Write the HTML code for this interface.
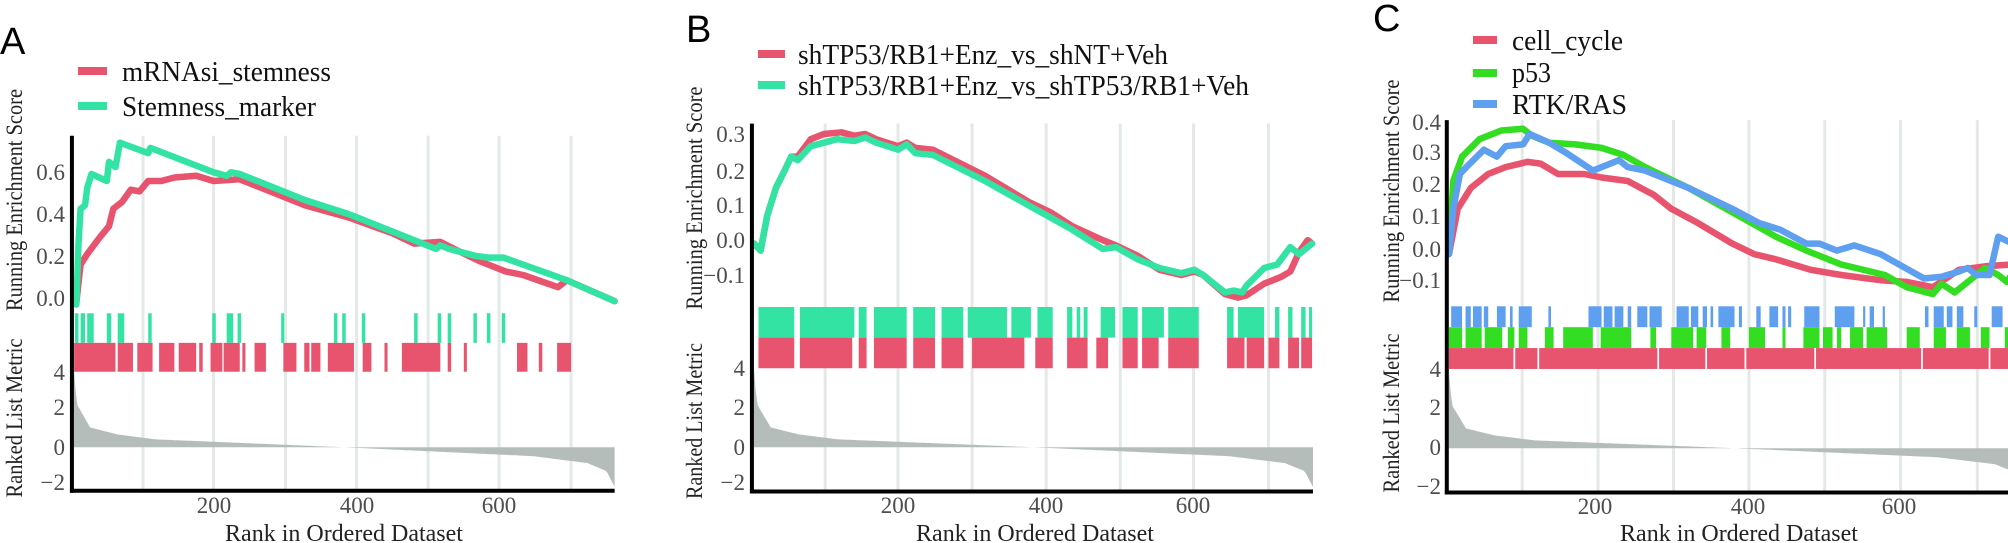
<!DOCTYPE html>
<html><head><meta charset="utf-8">
<style>
html,body{margin:0;padding:0;background:#fff;}
svg{display:block;}
svg text{font-family:"Liberation Serif","Times New Roman",serif;}
.t{fill:#4d4d4d;font-size:23px;}
.lg{fill:#111;font-size:28px;}
.yl{fill:#222;font-size:23px;}
.xl{fill:#222;font-size:24px;}
svg text.pl{font-family:"Liberation Sans",sans-serif;fill:#000;font-size:38px;}
</style></head>
<body>
<svg id="s" width="2008" height="543" viewBox="0 0 2008 543" xmlns="http://www.w3.org/2000/svg">
<g id="g"></g>
<!-- Panel A text -->
<text class="pl" x="0" y="54">A</text>
<rect x="78" y="67" width="29" height="8" fill="#e8536e"/>
<rect x="78" y="102" width="29" height="8" fill="#33e3a4"/>
<text class="lg" x="122" y="81" textLength="209" lengthAdjust="spacingAndGlyphs">mRNAsi_stemness</text>
<text class="lg" x="122" y="116" textLength="194" lengthAdjust="spacingAndGlyphs">Stemness_marker</text>
<g class="t" text-anchor="end">
<text class="t" x="65" y="180">0.6</text><text class="t" x="65" y="222">0.4</text><text class="t" x="65" y="264">0.2</text><text class="t" x="65" y="306">0.0</text>
<text class="t" x="65" y="380">4</text><text class="t" x="65" y="415">2</text><text class="t" x="65" y="455">0</text><text class="t" x="65" y="490">−2</text>
</g>
<g text-anchor="middle"><text class="t" x="214" y="513">200</text><text class="t" x="357" y="513">400</text><text class="t" x="499" y="513">600</text></g>
<text class="xl" x="344" y="541" text-anchor="middle">Rank in Ordered Dataset</text>
<text class="yl" transform="translate(22,200) rotate(-90)" text-anchor="middle" textLength="222" lengthAdjust="spacingAndGlyphs">Running Enrichment Score</text>
<text class="yl" transform="translate(22,418) rotate(-90)" text-anchor="middle" textLength="159" lengthAdjust="spacingAndGlyphs">Ranked List Metric</text>

<!-- Panel B text -->
<text class="pl" x="686" y="42">B</text>
<rect x="758" y="50" width="27" height="8" fill="#e8536e"/>
<rect x="758" y="81" width="27" height="8" fill="#33e3a4"/>
<text class="lg" x="798" y="64" textLength="370" lengthAdjust="spacingAndGlyphs">shTP53/RB1+Enz_vs_shNT+Veh</text>
<text class="lg" x="798" y="95" textLength="451" lengthAdjust="spacingAndGlyphs">shTP53/RB1+Enz_vs_shTP53/RB1+Veh</text>
<g text-anchor="end">
<text class="t" x="745" y="142">0.3</text><text class="t" x="745" y="179">0.2</text><text class="t" x="745" y="213">0.1</text><text class="t" x="745" y="248">0.0</text><text class="t" x="745" y="283">−0.1</text>
<text class="t" x="745" y="376">4</text><text class="t" x="745" y="415">2</text><text class="t" x="745" y="455">0</text><text class="t" x="745" y="490">−2</text>
</g>
<g text-anchor="middle"><text class="t" x="898" y="513">200</text><text class="t" x="1046" y="513">400</text><text class="t" x="1193" y="513">600</text></g>
<text class="xl" x="1035" y="541" text-anchor="middle">Rank in Ordered Dataset</text>
<text class="yl" transform="translate(702,198) rotate(-90)" text-anchor="middle" textLength="223" lengthAdjust="spacingAndGlyphs">Running Enrichment Score</text>
<text class="yl" transform="translate(702,421) rotate(-90)" text-anchor="middle" textLength="156" lengthAdjust="spacingAndGlyphs">Ranked List Metric</text>

<!-- Panel C text -->
<text class="pl" x="1373" y="31">C</text>
<rect x="1473" y="36" width="24" height="8" fill="#e8536e"/>
<rect x="1473" y="69" width="24" height="8" fill="#33dd22"/>
<rect x="1473" y="100" width="24" height="8" fill="#5e9ff0"/>
<text class="lg" x="1512" y="50" textLength="111" lengthAdjust="spacingAndGlyphs">cell_cycle</text>
<text class="lg" x="1512" y="82" textLength="39" lengthAdjust="spacingAndGlyphs">p53</text>
<text class="lg" x="1512" y="114" textLength="115" lengthAdjust="spacingAndGlyphs">RTK/RAS</text>
<g text-anchor="end">
<text class="t" x="1441" y="130">0.4</text><text class="t" x="1441" y="160">0.3</text><text class="t" x="1441" y="192">0.2</text><text class="t" x="1441" y="224">0.1</text><text class="t" x="1441" y="257">0.0</text><text class="t" x="1441" y="288">−0.1</text>
<text class="t" x="1441" y="377">4</text><text class="t" x="1441" y="415">2</text><text class="t" x="1441" y="455">0</text><text class="t" x="1441" y="494">−2</text>
</g>
<g text-anchor="middle"><text class="t" x="1595" y="514">200</text><text class="t" x="1748" y="514">400</text><text class="t" x="1899" y="514">600</text></g>
<text class="xl" x="1739" y="541" text-anchor="middle">Rank in Ordered Dataset</text>
<text class="yl" transform="translate(1399,191) rotate(-90)" text-anchor="middle" textLength="223" lengthAdjust="spacingAndGlyphs">Running Enrichment Score</text>
<text class="yl" transform="translate(1399,413) rotate(-90)" text-anchor="middle" textLength="159" lengthAdjust="spacingAndGlyphs">Ranked List Metric</text>
</svg>
<script>
(function(){
var NS="http://www.w3.org/2000/svg",G=document.getElementById("g");
var SX=2.294,SY=2.873;
function el(n,a){var e=document.createElementNS(NS,n);for(var k in a)e.setAttribute(k,a[k]);G.appendChild(e);return e;}
var MK=[[0,4],[0.005,2.2],[0.03,1.0],[0.08,0.65],[0.15,0.4],[0.5,0],[0.85,-0.45],[0.95,-0.8],[0.985,-1.2],[1,-2]];
function metric(f){
 for(var i=1;i<MK.length;i++){if(f<=MK[i][0]){var a=MK[i-1],b=MK[i];return a[1]+(b[1]-a[1])*(f-a[0])/(b[0]-a[0]);}}
 return -2;
}
var RED="#e8536e",TEAL="#33e3a4",GRN="#33dd22",BLUE="#5e9ff0";
var panels=[
{ox:0,L:165,T:390,B:1410,R:1410,Z:1285,grid:[328,490,655,818,982,1145,1310],
 bars:[{y0:900,y1:985,c:TEAL,r:[[172,180],[185,195],[200,215],[245,255],[270,285],[340,348],[487,495],[520,535],[545,553],[645,652],[766,774],[785,793],[830,838],[950,958],[1004,1012],[1027,1035],[1086,1094],[1117,1125],[1151,1159]]},
       {y0:985,y1:1068,c:RED,r:[[170,265],[270,305],[315,350],[365,400],[410,450],[457,465],[483,510],[513,550],[556,563],[584,610],[650,680],[698,710],[714,735],[752,812],[832,852],[882,889],[922,1010],[1027,1035],[1064,1071],[1186,1210],[1236,1244],[1278,1310]]}],
 curves:[[RED,[[175,870],[185,760],[200,730],[230,680],[250,650],[260,600],[280,580],[300,545],[320,550],[340,520],[370,520],[400,510],[450,505],[490,520],[550,515],[600,540],[700,590],[800,625],[900,670],[950,700],[1010,695],[1050,720],[1100,750],[1160,780],[1200,790],[1280,825],[1300,805],[1410,865]]],
  [TEAL,[[175,875],[180,700],[185,600],[195,590],[200,540],[210,500],[245,520],[250,465],[265,480],[275,410],[340,440],[345,425],[490,495],[520,505],[530,495],[550,500],[650,550],[700,575],[800,615],[830,630],[950,690],[1000,715],[1010,705],[1030,715],[1090,735],[1120,740],[1155,740],[1300,805],[1410,865]]]]},
{ox:680,L:165,T:355,B:1412,R:1452,Z:1285,grid:[333,500,670,840,1010,1178,1350],
 bars:[{y0:882,y1:970,c:TEAL,r:[[180,262],[275,400],[410,428],[445,520],[535,585],[600,650],[660,750],[760,805],[820,855],[888,900],[910,918],[926,935],[965,998],[1015,1050],[1060,1110],[1120,1190],[1255,1270],[1280,1340],[1365,1375],[1395,1405],[1425,1435],[1443,1450]]},
       {y0:970,y1:1058,c:RED,r:[[180,262],[275,395],[410,428],[445,520],[535,585],[600,650],[670,790],[815,855],[888,935],[955,982],[1015,1050],[1060,1098],[1120,1190],[1255,1295],[1300,1340],[1350,1375],[1395,1420],[1425,1450]]}],
 curves:[[RED,[[170,700],[185,720],[200,620],[220,540],[240,490],[255,450],[270,450],[300,400],[330,385],[370,380],[400,390],[425,385],[450,400],[500,420],[520,410],[540,425],[580,430],[620,455],[700,505],[800,580],[850,610],[900,650],[970,690],[1000,705],[1050,735],[1100,775],[1150,790],[1180,780],[1200,790],[1250,845],[1280,855],[1300,848],[1340,815],[1380,795],[1400,780],[1420,725],[1440,690],[1450,700]]],
  [TEAL,[[170,700],[185,720],[200,620],[220,540],[240,490],[255,450],[270,460],[300,420],[330,410],[360,400],[400,405],[425,395],[450,410],[500,430],[520,415],[540,440],[580,445],[620,470],[700,520],[800,590],[850,625],[900,660],[970,715],[1000,710],[1050,745],[1100,770],[1150,785],[1180,775],[1200,790],[1250,840],[1270,835],[1290,840],[1300,820],[1340,770],[1370,760],[1400,710],[1420,730],[1450,700]]]]},
{ox:1340,L:245,T:345,B:1415,R:1568,Z:1288,grid:[418,592,765,938,1112,1286,1462],
 bars:[{y0:880,y1:940,c:BLUE,r:[[255,280],[288,300],[305,325],[330,340],[360,380],[390,396],[410,440],[478,484],[570,600],[605,625],[630,650],[660,668],[682,705],[710,738],[772,800],[805,822],[832,842],[850,856],[868,905],[915,922],[955,965],[985,1005],[1015,1022],[1028,1035],[1065,1100],[1135,1180],[1200,1205],[1215,1225],[1245,1250],[1342,1350],[1362,1385],[1392,1405],[1415,1430],[1455,1462],[1495,1520]]},
       {y0:940,y1:1000,c:GRN,r:[[250,280],[288,325],[332,372],[385,400],[410,430],[470,490],[512,580],[598,668],[712,725],[760,810],[818,840],[875,895],[938,975],[1015,1022],[1063,1100],[1108,1130],[1140,1150],[1170,1200],[1208,1255],[1300,1330],[1362,1390],[1415,1445],[1470,1490],[1525,1568]]},
       {y0:1000,y1:1060,c:RED,r:[[250,398],[402,453],[457,728],[732,838],[842,928],[932,1088],[1092,1333],[1337,1488],[1492,1568]]}],
 curves:[[RED,[[250,730],[270,600],[300,540],[340,500],[380,480],[430,465],[460,470],[500,500],[560,500],[600,510],[660,520],[720,560],[760,600],[820,640],[900,700],[950,730],[1000,745],[1080,775],[1150,790],[1240,805],[1300,810],[1360,825],[1420,775],[1480,765],[1540,760],[1568,730]]],
  [GRN,[[250,730],[260,520],[280,450],[320,400],[370,375],[420,370],[440,390],[480,410],[540,415],[600,425],[650,445],[700,480],[800,540],[900,610],[1000,680],[1070,720],[1150,760],[1250,790],[1300,825],[1360,845],[1380,815],[1410,840],[1450,800],[1480,770],[1510,790],[1530,810],[1550,770],[1568,720]]],
  [BLUE,[[250,730],[260,600],[275,500],[290,480],[330,430],[360,450],[380,420],[420,415],[435,385],[480,410],[520,440],[580,490],[600,480],[640,460],[660,480],[700,490],[800,540],[900,600],[960,640],[1010,660],[1070,700],[1100,700],[1140,720],[1180,705],[1240,730],[1340,800],[1380,795],[1420,780],[1440,770],[1460,790],[1490,790],[1510,680],[1568,715]]]]}
];
panels.forEach(function(p){
 function X(z){return z/SX+p.ox;} function Y(z){return z/SY;}
 p.grid.forEach(function(g){el("line",{x1:X(g),x2:X(g),y1:Y(p.T),y2:Y(p.B),stroke:"#e3e9e7","stroke-width":3});});
 var pts=[],N=300,L=X(p.L)+2,R=X(p.R),z=Y(p.Z),u=57/SY;
 pts.push(L+","+z);
 for(var i=0;i<=N;i++){var f=i/N;pts.push((L+(R-L)*f).toFixed(1)+","+(z-metric(f)*u).toFixed(1));}
 pts.push(R+","+z);
 el("polygon",{points:pts.join(" "),fill:"#b5bdba"});
 p.bars.forEach(function(b){b.r.forEach(function(r){
  el("rect",{x:X(r[0]),y:Y(b.y0),width:Math.max(2,(r[1]-r[0])/SX),height:(b.y1-b.y0)/SY,fill:b.c});
 });});
 p.curves.forEach(function(c){
  el("polyline",{points:c[1].map(function(q){return X(q[0]).toFixed(1)+","+Y(q[1]).toFixed(1);}).join(" "),fill:"none",stroke:c[0],"stroke-width":6.5,"stroke-linejoin":"round","stroke-linecap":"round"});
 });
 el("line",{x1:X(p.L),x2:X(p.L),y1:Y(p.T),y2:Y(p.B)+2,stroke:"#000","stroke-width":4});
 el("line",{x1:X(p.L)-2,x2:X(p.R),y1:Y(p.B),y2:Y(p.B),stroke:"#000","stroke-width":4});
});
})();
</script>
</body></html>
